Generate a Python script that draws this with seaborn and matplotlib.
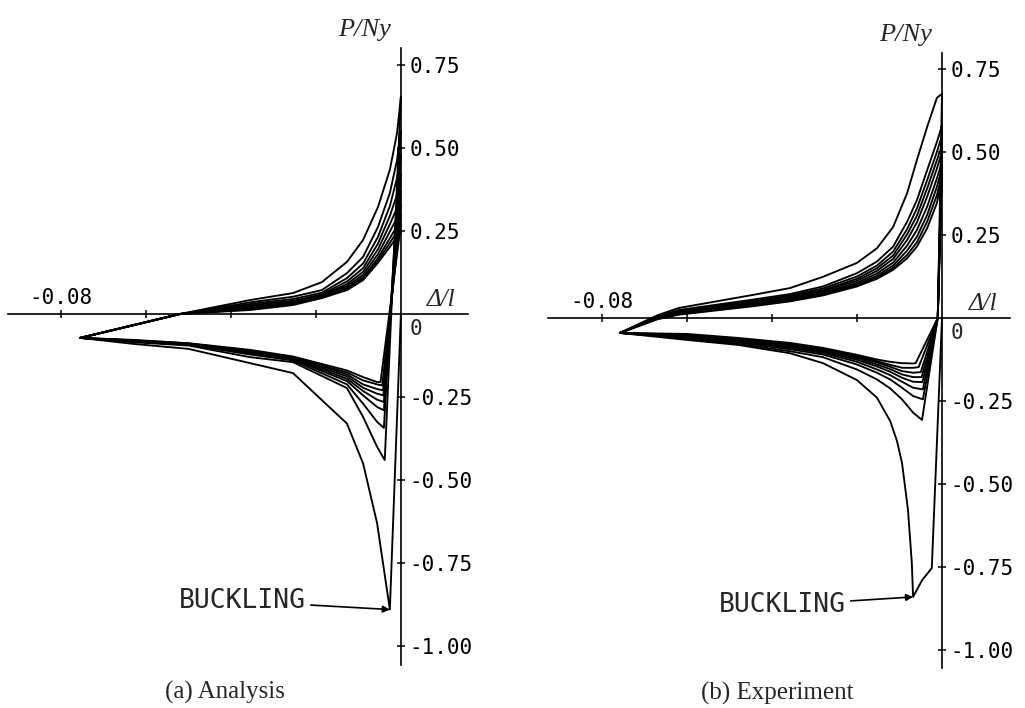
import numpy as np
import pandas as pd
import matplotlib
matplotlib.use("Agg")
import matplotlib.pyplot as plt
import seaborn as sns

# ---------------- (a) Analysis ----------------
# initial elastic loading start (origin)
a_init_x = [0.0]
a_init_y = [0.0]
# compression peaks of each cycle (first = buckling)
a_peak_x = [-0.0026, -0.0038, -0.0040, -0.0040, -0.0040, -0.0041, -0.0042, -0.0044, -0.0048]
a_peak_y = [-0.89, -0.44, -0.343, -0.29, -0.265, -0.245, -0.23, -0.215, -0.205]
# lower (compression) branches, from the left tip towards the peak
a_low_x = [-0.0755, -0.063, -0.050, -0.0355, -0.0254, -0.0127, -0.0089, -0.0056]
a_low_y = [
    [-0.072, -0.090, -0.105, -0.148, -0.178, -0.330, -0.450, -0.630],
    [-0.072, -0.085, -0.095, -0.130, -0.145, -0.223, -0.310, -0.400],
    [-0.072, -0.083, -0.093, -0.122, -0.140, -0.212, -0.270, -0.325],
    [-0.072, -0.082, -0.092, -0.118, -0.137, -0.202, -0.245, -0.280],
    [-0.072, -0.081, -0.091, -0.115, -0.135, -0.195, -0.232, -0.258],
    [-0.072, -0.080, -0.090, -0.113, -0.133, -0.188, -0.222, -0.240],
    [-0.072, -0.080, -0.089, -0.111, -0.131, -0.182, -0.212, -0.226],
    [-0.072, -0.079, -0.089, -0.110, -0.130, -0.176, -0.200, -0.212],
    [-0.072, -0.078, -0.088, -0.108, -0.128, -0.170, -0.190, -0.205],
]
# upper (tension) branches, from the left tip to the top at zero displacement
a_up_x = [-0.0755, -0.052, -0.0355, -0.0254, -0.0186, -0.0127, -0.0089, -0.0054, -0.0026, -0.0009, 0.0]
a_up_y = [
    [-0.072, 0.0, 0.042, 0.063, 0.096, 0.157, 0.223, 0.322, 0.434, 0.545, 0.654],
    [-0.072, 0.0, 0.035, 0.052, 0.072, 0.123, 0.172, 0.262, 0.364, 0.464, 0.550],
    [-0.072, 0.0, 0.030, 0.045, 0.064, 0.108, 0.152, 0.232, 0.325, 0.410, 0.480],
    [-0.072, 0.0, 0.026, 0.040, 0.059, 0.098, 0.138, 0.212, 0.295, 0.360, 0.420],
    [-0.072, 0.0, 0.022, 0.036, 0.056, 0.090, 0.127, 0.195, 0.270, 0.320, 0.370],
    [-0.072, 0.0, 0.019, 0.033, 0.053, 0.084, 0.118, 0.180, 0.248, 0.290, 0.330],
    [-0.072, 0.0, 0.016, 0.031, 0.051, 0.079, 0.111, 0.168, 0.228, 0.265, 0.300],
    [-0.072, 0.0, 0.014, 0.029, 0.049, 0.075, 0.106, 0.160, 0.214, 0.248, 0.270],
    [-0.072, 0.0, 0.012, 0.027, 0.048, 0.072, 0.102, 0.154, 0.202, 0.232, 0.245],
]

# ---------------- (b) Experiment ----------------
e_init_x = [0.0, -0.0024, -0.0047]
e_init_y = [0.0, -0.753, -0.790]
e_peak_x = [-0.0068, -0.0047, -0.0045, -0.0045, -0.0046, -0.0048, -0.0050, -0.0055, -0.0062]
e_peak_y = [-0.84, -0.307, -0.245, -0.215, -0.193, -0.178, -0.163, -0.148, -0.136]
# buckling (first) compression branch
e_buck_x = [-0.0758, -0.060, -0.048, -0.0358, -0.028, -0.020, -0.0153, -0.0122, -0.0106, -0.0094, -0.0080, -0.0071]
e_buck_y = [-0.045, -0.066, -0.081, -0.106, -0.136, -0.187, -0.240, -0.310, -0.370, -0.437, -0.578, -0.738]
# later compression branches
e_low_x = [-0.0758, -0.060, -0.048, -0.0358, -0.028, -0.020, -0.0153, -0.0122, -0.0094, -0.0068]
e_low_y = [
    [-0.045, -0.062, -0.078, -0.100, -0.118, -0.155, -0.185, -0.212, -0.245, -0.285],
    [-0.045, -0.060, -0.074, -0.094, -0.110, -0.140, -0.165, -0.185, -0.210, -0.235],
    [-0.045, -0.058, -0.071, -0.090, -0.105, -0.132, -0.155, -0.172, -0.192, -0.210],
    [-0.045, -0.056, -0.068, -0.087, -0.101, -0.126, -0.146, -0.162, -0.180, -0.192],
    [-0.045, -0.054, -0.066, -0.084, -0.098, -0.121, -0.140, -0.154, -0.170, -0.178],
    [-0.045, -0.052, -0.064, -0.081, -0.095, -0.117, -0.134, -0.147, -0.160, -0.165],
    [-0.045, -0.050, -0.062, -0.078, -0.092, -0.114, -0.130, -0.141, -0.150, -0.150],
    [-0.045, -0.048, -0.060, -0.075, -0.090, -0.111, -0.125, -0.132, -0.136, -0.137],
]
# tension branches
e_up_x = [-0.0758, -0.067, -0.062, -0.0447, -0.0358, -0.028, -0.020, -0.0153, -0.0115, -0.0082, -0.0059, -0.0035, -0.0012, 0.0]
e_up_y = [
    [-0.045, 0.008, 0.030, 0.069, 0.090, 0.124, 0.166, 0.210, 0.274, 0.376, 0.476, 0.575, 0.663, 0.675],
    [-0.045, 0.004, 0.024, 0.055, 0.072, 0.095, 0.135, 0.170, 0.215, 0.290, 0.355, 0.445, 0.530, 0.580],
    [-0.045, 0.002, 0.021, 0.051, 0.068, 0.089, 0.125, 0.158, 0.200, 0.268, 0.330, 0.415, 0.500, 0.550],
    [-0.045, 0.001, 0.019, 0.048, 0.064, 0.084, 0.118, 0.150, 0.188, 0.252, 0.308, 0.390, 0.475, 0.520],
    [-0.045, 0.000, 0.017, 0.045, 0.060, 0.080, 0.112, 0.142, 0.178, 0.235, 0.288, 0.365, 0.450, 0.500],
    [-0.045, -0.001, 0.015, 0.042, 0.057, 0.076, 0.106, 0.134, 0.167, 0.218, 0.265, 0.335, 0.420, 0.470],
    [-0.045, -0.002, 0.013, 0.040, 0.055, 0.073, 0.101, 0.127, 0.158, 0.203, 0.245, 0.310, 0.395, 0.450],
    [-0.045, -0.003, 0.011, 0.037, 0.052, 0.070, 0.098, 0.122, 0.151, 0.190, 0.228, 0.290, 0.370, 0.430],
    [-0.045, -0.004, 0.010, 0.035, 0.050, 0.068, 0.095, 0.118, 0.145, 0.180, 0.215, 0.270, 0.346, 0.420],
]
# displacement where unloading lines cross P = 0 (experiment)
e_unload_zero_x = -0.0010

y_ticks = [-1.0, -0.75, -0.5, -0.25, 0.25, 0.5, 0.75]
y_tick_labels = ["-1.00", "-0.75", "-0.50", "-0.25", "0.25", "0.50", "0.75"]
x_ticks = [-0.08, -0.06, -0.04, -0.02]
x_tick_labels = ["-0.08", "", "", ""]


def build(init_x, init_y, peak_x, peak_y, low_x, low_y_list, up_x, up_y_list,
          first_low_x=None, first_low_y=None, zero_x=None):
    rows = []
    n = len(peak_x)
    j = 0
    for k in range(n):
        xs, ys = [], []
        if k == 0:
            xs += list(init_x)
            ys += list(init_y)
        else:
            xs.append(up_x[-1])
            ys.append(up_y_list[k - 1][-1])
            if zero_x is not None:
                xs.append(zero_x)
                ys.append(0.0)
        xs.append(peak_x[k])
        ys.append(peak_y[k])
        if k == 0 and first_low_x is not None:
            lx, ly = first_low_x, first_low_y
        else:
            lx = low_x
            ly = low_y_list[k if first_low_x is None else k - 1]
        xs += list(lx[::-1])
        ys += list(ly[::-1])
        xs += list(up_x[1:])
        ys += list(up_y_list[k][1:])
        for x, y in zip(xs, ys):
            rows.append({"cycle": k, "step": j, "x": x, "y": y})
            j += 1
    return pd.DataFrame(rows)


df_a = build(a_init_x, a_init_y, a_peak_x, a_peak_y, a_low_x, a_low_y, a_up_x, a_up_y)
df_b = build(e_init_x, e_init_y, e_peak_x, e_peak_y, e_low_x, e_low_y, e_up_x, e_up_y,
             first_low_x=e_buck_x, first_low_y=e_buck_y, zero_x=e_unload_zero_x)

sns.set_style("white")
plt.rcParams["font.family"] = ["DejaVu Sans"]

fig = plt.figure(figsize=(10.25, 7.08), dpi=100)
W, H = 1025.0, 708.0
axA = fig.add_axes([8 / W, 1 - 665 / H, 460 / W, 617 / H])
axB = fig.add_axes([548 / W, 1 - 668 / H, 462 / W, 615 / H])

mono = "DejaVu Sans Mono"
serif = "Liberation Serif"

panels = [
    (axA, df_a, (-0.0925, 0.0158), (-1.057, 0.801), (a_peak_x[0], a_peak_y[0]), (-106, 6)),
    (axB, df_b, (-0.0927, 0.0160), (-1.054, 0.798), (e_peak_x[0], e_peak_y[0]), (-94, -6)),
]

for ax, df, xl, yl, bpt, toff in panels:
    sns.lineplot(data=df, x="x", y="y", units="cycle", estimator=None, sort=False,
                 color="black", lw=1.35, ax=ax, legend=False)
    ax.set_xlim(*xl)
    ax.set_ylim(*yl)
    ax.set_xlabel("")
    ax.set_ylabel("")
    ax.patch.set_alpha(0)
    for s in ["left", "bottom"]:
        ax.spines[s].set_visible(False)
    ax.spines["right"].set_position(("data", 0))
    ax.spines["top"].set_position(("data", 0))
    for s in ["right", "top"]:
        ax.spines[s].set_linewidth(1.2)
        ax.spines[s].set_color("black")
    ax.yaxis.tick_right()
    ax.xaxis.tick_top()
    ax.set_yticks(y_ticks)
    ax.set_yticklabels(y_tick_labels, fontfamily=mono, fontsize=15)
    ax.set_xticks(x_ticks)
    ax.set_xticklabels(x_tick_labels, fontfamily=mono, fontsize=15)
    ax.tick_params(axis="y", direction="inout", length=6, width=1.1, pad=3, colors="black")
    ax.tick_params(axis="x", direction="inout", length=6, width=1.1, pad=1, colors="black")
    # axis titles
    ax.annotate("P/Ny", xy=(0, yl[1]), xytext=(-26, 13), textcoords="offset points",
                ha="center", va="center", fontfamily=serif, fontstyle="italic", fontsize=19)
    ax.annotate("Δ/l", xy=(xl[1], 0), xytext=(-19, 10), textcoords="offset points",
                ha="center", va="center", fontfamily=serif, fontstyle="italic", fontsize=18)
    ax.annotate("0", xy=(0, 0), xytext=(11, -11), textcoords="offset points",
                ha="center", va="center", fontfamily=mono, fontsize=15)
    ax.annotate("BUCKLING", xy=bpt, xytext=toff, textcoords="offset points",
                ha="center", va="center", fontfamily=mono, fontsize=19,
                arrowprops=dict(arrowstyle="-|>", color="black", lw=1.2,
                                mutation_scale=10, shrinkA=1, shrinkB=0))

fig.text(225 / W, 1 - 692 / H, "(a) Analysis", ha="center", va="center",
         fontfamily=serif, fontsize=18)
fig.text(777 / W, 1 - 693 / H, "(b) Experiment", ha="center", va="center",
         fontfamily=serif, fontsize=18)

fig.savefig("out.png", dpi=100, facecolor="white")
